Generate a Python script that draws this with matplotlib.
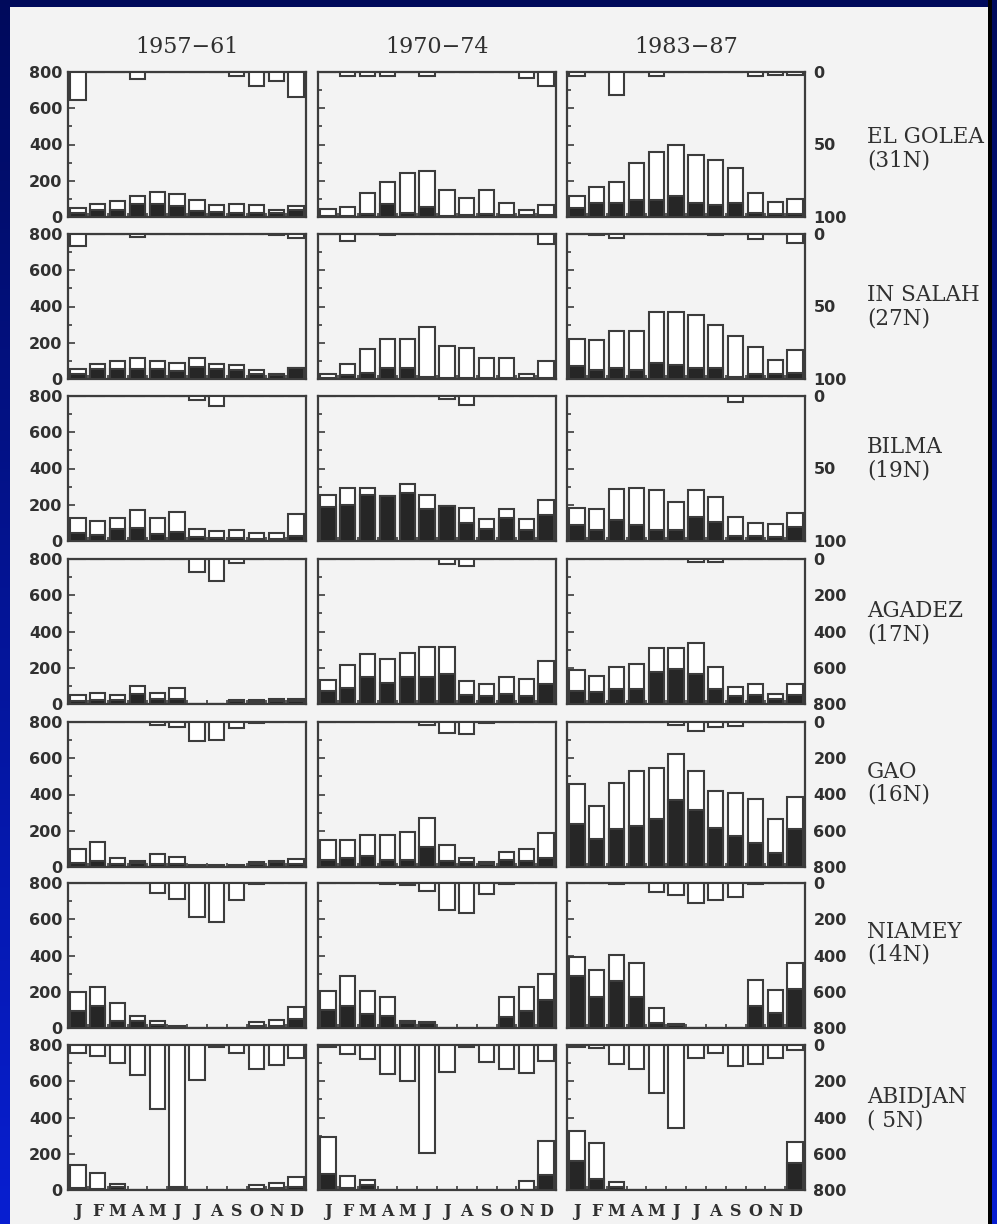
import numpy as np
import matplotlib
matplotlib.use("Agg")
import matplotlib.pyplot as plt
from matplotlib.patches import Rectangle
from matplotlib.ticker import MultipleLocator

# ==========================================
# DATA
# ==========================================

months = ["J", "F", "M", "A", "M", "J", "J", "A", "S", "O", "N", "D"]
periods = ["1957\u221261", "1970\u221274", "1983\u221287"]
stations = ["EL GOLEA", "IN SALAH", "BILMA", "AGADEZ", "GAO", "NIAMEY", "ABIDJAN"]
latitudes = ["(31N)", "(27N)", "(19N)", "(17N)", "(16N)", "(14N)", "( 5N)"]

# right-hand (inverted) scale maximum and its labels per station row
rain_max = [100, 100, 100, 800, 800, 800, 800]
rain_ticks = [[0, 50, 100]] * 3 + [[0, 200, 400, 600, 800]] * 4

# white (total) bars, black (inner) bars, hanging bars; one list per period
golea_tot = [[49, 71, 86, 114, 137, 126, 95, 66, 71, 66, 40, 62],
             [45, 55, 130, 192, 245, 252, 148, 105, 148, 80, 38, 65],
             [115, 164, 192, 298, 357, 400, 340, 316, 270, 134, 84, 97]]
golea_blk = [[22, 40, 40, 73, 73, 59, 31, 26, 22, 22, 22, 40],
             [5, 5, 15, 70, 20, 55, 5, 10, 15, 10, 10, 10],
             [50, 78, 78, 93, 93, 115, 78, 65, 78, 22, 15, 19]]
golea_rain = [[19, 0, 0, 5, 0, 0, 0, 0, 3, 10, 6, 17],
              [0, 3, 3, 3, 0, 3, 0, 0, 0, 0, 4, 10],
              [3, 0, 16, 0, 3, 0, 0, 0, 0, 3, 2, 2]]

salah_tot = [[56, 84, 99, 117, 99, 87, 117, 84, 80, 47, 28, 61],
             [28, 82, 165, 218, 220, 288, 182, 172, 116, 116, 27, 100],
             [222, 217, 267, 267, 370, 370, 352, 300, 235, 174, 106, 161]]
salah_blk = [[28, 56, 56, 56, 56, 43, 65, 56, 47, 28, 24, 61],
             [5, 22, 33, 63, 58, 11, 5, 5, 5, 5, 5, 5],
             [74, 50, 59, 50, 87, 78, 59, 63, 13, 26, 26, 31]]
salah_rain = [[8, 0, 0, 2, 0, 0, 0, 0, 0, 0, 1, 3],
              [0, 5, 0, 1, 0, 0, 0, 0, 0, 0, 0, 7],
              [0, 1, 3, 0, 0, 0, 0, 1, 0, 3.5, 0, 6]]

bilma_tot = [[129, 111, 129, 171, 129, 162, 65, 55, 59, 42, 42, 147],
             [256, 290, 294, 249, 315, 256, 195, 183, 121, 178, 122, 227],
             [183, 179, 285, 291, 280, 216, 280, 244, 131, 99, 93, 155]]
bilma_blk = [[46, 31, 65, 74, 37, 50, 24, 18, 18, 13, 13, 28],
             [186, 199, 256, 249, 265, 176, 195, 100, 66, 129, 62, 144],
             [90, 62, 118, 90, 62, 62, 132, 104, 30, 30, 24, 75]]
bilma_rain = [[0, 0, 0, 0, 0, 0, 3, 7, 0, 0, 0, 0],
              [0, 0, 0, 0, 0, 0, 2, 6, 0, 0, 0, 0],
              [0, 0, 0, 0, 0, 0, 0, 0, 4, 0, 0, 0]]

agadez_tot = [[47, 58, 52, 99, 58, 89, 0, 0, 24, 20, 30, 30],
              [134, 216, 274, 248, 282, 312, 316, 125, 108, 150, 136, 239],
              [188, 154, 202, 220, 307, 307, 335, 202, 94, 113, 56, 113]]
agadez_blk = [[19, 24, 24, 56, 30, 30, 0, 0, 19, 11, 15, 19],
              [72, 87, 148, 117, 148, 148, 164, 51, 43, 57, 45, 109],
              [70, 66, 85, 85, 175, 194, 164, 85, 43, 47, 28, 51]]
agadez_rain = [[0, 0, 0, 0, 0, 0, 74, 119, 22, 0, 0, 0],
               [0, 0, 0, 0, 0, 0, 26, 37, 0, 0, 0, 0],
               [0, 0, 0, 0, 0, 0, 15, 15, 0, 0, 0, 0]]

gao_tot = [[102, 140, 47, 32, 69, 56, 9, 13, 9, 28, 32, 43],
           [147, 151, 175, 177, 192, 268, 122, 48, 30, 84, 99, 188],
           [456, 336, 463, 528, 546, 625, 528, 417, 410, 377, 263, 386]]
gao_blk = [[24, 32, 19, 24, 19, 19, 6, 6, 6, 19, 28, 19],
           [37, 48, 63, 37, 37, 109, 32, 25, 15, 40, 33, 49],
           [239, 153, 211, 224, 267, 371, 316, 217, 169, 132, 79, 208]]
gao_rain = [[0, 0, 0, 0, 19, 28, 106, 99, 32, 6, 0, 0],
            [0, 0, 0, 0, 0, 15, 58, 68, 8, 0, 0, 0],
            [0, 0, 0, 0, 0, 18, 50, 28, 24, 0, 0, 0]]

niamey_tot = [[200, 226, 139, 65, 37, 9, 0, 0, 0, 33, 46, 115],
              [204, 288, 202, 172, 40, 32, 0, 0, 0, 172, 227, 300],
              [391, 319, 404, 361, 113, 23, 0, 0, 0, 267, 210, 357]]
niamey_blk = [[96, 120, 41, 37, 15, 0, 0, 0, 0, 9, 9, 52],
              [101, 123, 78, 66, 29, 29, 0, 0, 0, 62, 95, 154],
              [285, 173, 257, 173, 28, 15, 0, 0, 0, 122, 85, 216]]
niamey_rain = [[0, 0, 0, 0, 55, 87, 189, 216, 96, 5, 0, 0],
               [0, 0, 0, 5, 10, 43, 150, 165, 60, 5, 0, 0],
               [0, 0, 5, 0, 47, 66, 113, 94, 75, 3, 0, 0]]

abidjan_tot = [[138, 96, 33, 0, 0, 22, 0, 0, 0, 28, 37, 74],
               [294, 75, 57, 0, 0, 0, 0, 0, 0, 0, 48, 271],
               [327, 261, 46, 0, 0, 0, 0, 0, 0, 0, 0, 267]]
abidjan_blk = [[9, 4, 18, 0, 0, 10, 0, 0, 0, 8, 10, 18],
               [90, 13, 28, 0, 0, 0, 0, 0, 0, 0, 0, 83],
               [160, 59, 18, 0, 0, 0, 0, 0, 0, 0, 0, 151]]
abidjan_rain = [[42, 61, 97, 165, 355, 785, 193, 13, 42, 134, 110, 74],
                [13, 48, 78, 158, 198, 595, 151, 11, 96, 132, 157, 88],
                [13, 18, 105, 134, 263, 456, 74, 46, 116, 105, 74, 28]]

tot_rows = [golea_tot, salah_tot, bilma_tot, agadez_tot, gao_tot, niamey_tot, abidjan_tot]
blk_rows = [golea_blk, salah_blk, bilma_blk, agadez_blk, gao_blk, niamey_blk, abidjan_blk]
rain_rows = [golea_rain, salah_rain, bilma_rain, agadez_rain, gao_rain, niamey_rain, abidjan_rain]

# ==========================================
# LAYOUT (pixels)
# ==========================================

W, H = 997, 1224
COL_LEFT = [68, 318, 567]
ROW_TOP = [72, 234, 396, 559, 722, 883, 1045]
PW, PH = 238, 145
LABEL_Y = [137, 295, 447, 611, 772, 932, 1097]

PAGE = "#f3f3f3"
EDGE = "#3c3c3c"
DARK = "#262626"
TEXT = "#303030"


def fx(x):
    return x / W


def fy(y):
    return 1 - y / H


fig = plt.figure(figsize=(W / 100, H / 100), dpi=100)

# blue slide background + scanned page
bg = fig.add_axes([0, 0, 1, 1], zorder=-10)
grad = np.linspace(0, 1, 256)[:, None, None]
top_c = np.array([0.0, 0.04, 0.36])
bot_c = np.array([0.03, 0.12, 0.82])
bg.imshow(top_c + (bot_c - top_c) * grad, aspect="auto",
          extent=[0, W, H, 0], interpolation="bilinear")
bg.add_patch(Rectangle((10, 7), 979, H - 7, facecolor=PAGE, edgecolor="none"))
bg.set_xlim(0, W)
bg.set_ylim(H, 0)
bg.axis("off")

# ==========================================
# PANELS
# ==========================================

x = np.arange(12)

for r in range(7):
    for c in range(3):
        ax = fig.add_axes([fx(COL_LEFT[c]), fy(ROW_TOP[r] + PH), fx(PW), PH / H])
        ax.patch.set_alpha(0)

        ax.bar(x, tot_rows[r][c], width=0.78, color="white",
               edgecolor=EDGE, linewidth=1.5, zorder=2)
        ax.bar(x, blk_rows[r][c], width=0.78, color=DARK,
               edgecolor=EDGE, linewidth=1.5, zorder=3)
        ax.set_xlim(-0.5, 11.5)
        ax.set_ylim(0, 800)

        ax.yaxis.set_major_locator(MultipleLocator(200))
        ax.yaxis.set_minor_locator(MultipleLocator(100))
        ax.tick_params(axis="y", which="both", direction="in", left=True, right=True,
                       labelleft=(c == 0), color=EDGE, width=1.2)
        ax.tick_params(axis="y", which="major", length=5, pad=4,
                       labelsize=11.5, labelcolor=TEXT)
        ax.tick_params(axis="y", which="minor", length=3)
        for lab in ax.get_yticklabels():
            lab.set_fontweight("bold")

        ax.set_xticks(x)
        ax.set_xticks(x[:-1] + 0.5, minor=True)
        ax.tick_params(axis="x", which="major", length=0, pad=9,
                       labelbottom=(r == 6))
        ax.tick_params(axis="x", which="minor", direction="in", length=3,
                       color=EDGE, width=1.2)
        if r == 6:
            ax.set_xticklabels(months, family="DejaVu Serif", fontweight="bold",
                               fontsize=11.5, color=TEXT)
        for s in ax.spines.values():
            s.set_color(EDGE)
            s.set_linewidth(1.6)

        rx = ax.twinx()
        rx.bar(x, rain_rows[r][c], width=0.78, color="white",
               edgecolor=EDGE, linewidth=1.5, zorder=2)
        rx.set_ylim(rain_max[r], 0)
        rx.set_yticks(rain_ticks[r])
        rx.tick_params(axis="y", length=0, pad=6, labelright=(c == 2),
                       labelsize=11.5, labelcolor=TEXT)
        for lab in rx.get_yticklabels():
            lab.set_fontweight("bold")
        for s in rx.spines.values():
            s.set_visible(False)

# ==========================================
# TEXT
# ==========================================

for c in range(3):
    fig.text(fx(COL_LEFT[c] + PW / 2), fy(47), periods[c], ha="center", va="center",
             family="DejaVu Serif", fontsize=16, color=TEXT)

for r in range(7):
    fig.text(fx(867), fy(LABEL_Y[r]), stations[r], ha="left", va="center",
             family="DejaVu Serif", fontsize=15.5, color=TEXT)
    fig.text(fx(867), fy(LABEL_Y[r] + 23), latitudes[r], ha="left", va="center",
             family="DejaVu Serif", fontsize=15.5, color=TEXT)

# right slide border covers text running off the page
edge_ax = fig.add_axes([fx(988), 0, fx(9), 1], zorder=10)
edge_ax.imshow(top_c + (bot_c - top_c) * grad, aspect="auto",
               extent=[0, 9, H, 0], interpolation="bilinear")
edge_ax.add_patch(Rectangle((0, 0), 4, H, facecolor="black", edgecolor="none"))
edge_ax.set_xlim(0, 9)
edge_ax.set_ylim(H, 0)
edge_ax.axis("off")

plt.savefig("out.png", dpi=100)
